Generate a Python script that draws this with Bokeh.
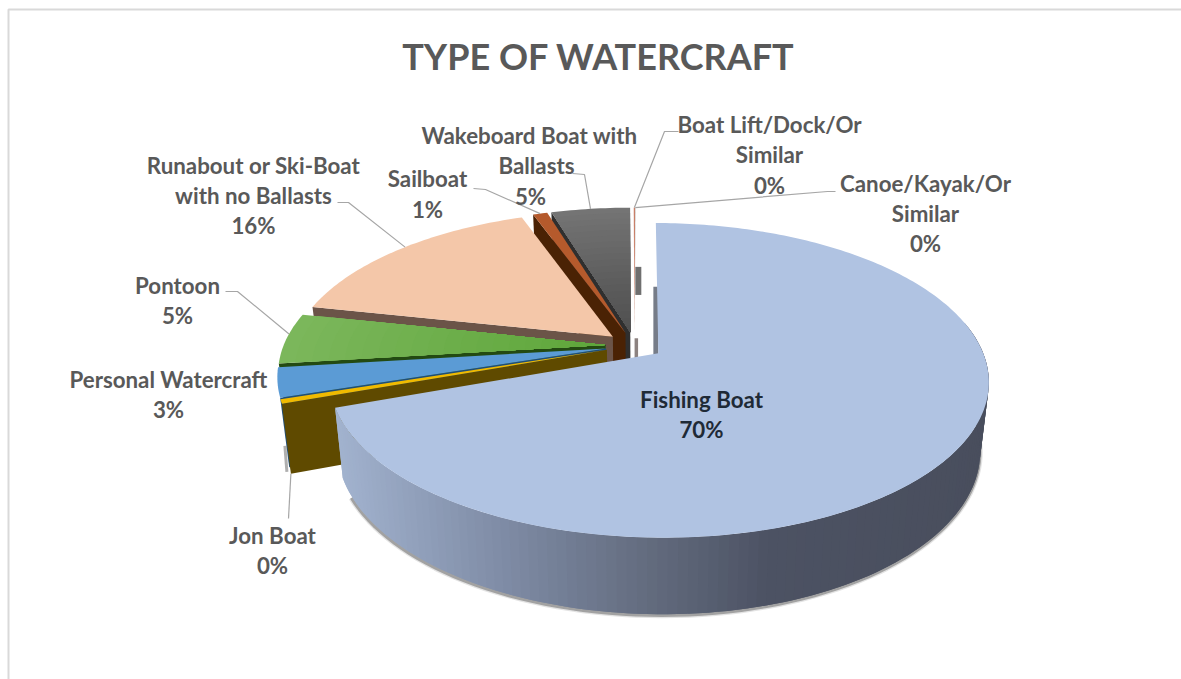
import math
from bokeh.plotting import figure, ColumnDataSource
from bokeh.core.properties import value
from bokeh.embed import file_html
from bokeh.resources import INLINE

TITLE = "TYPE OF WATERCRAFT"

# Series, clockwise from twelve o'clock
names = ["Fishing Boat", "Jon Boat", "Personal Watercraft", "Pontoon",
         "Runabout or Ski-Boat with no Ballasts", "Sailboat",
         "Wakeboard Boat with Ballasts", "Boat Lift/Dock/Or Similar",
         "Canoe/Kayak/Or Similar"]
shares = [69.5, 0.45, 3.05, 5.3, 16.1, 0.85, 4.65, 0.08, 0.02]

top_outer = ["#B0C3E2", "#F0BA00", "#5B9BD5", "#7CB75C", "#F4C7A9", "#B55A2C", "#757575", "#C97F68", "#A5A5A5"]
top_inner = ["#B0C3E2", "#F0BA00", "#5B9BD5", "#5EA63A", "#F4C7A9", "#B55A2C", "#4F4F4F", "#C97F68", "#A5A5A5"]
wall_color = ["#6E7688", "#5F4A00", "#1F4E79", "#234A12", "#6B5448", "#4A2204", "#2F2F2F", "#7A3A20", "#6E6E6E"]

# Projection of the tilted disc onto the page
CX, CY = 634.0, 345.0
RX, RY = 322.0, 150.0
PERSP = 0.17
EXPLODE = 0.09
DEPTH = 67.0
DEPTH_PERSP = 0.119
ROTATION = math.radians(0.2)
NADIR_X, NADIR_PULL = 642.0, 0.025


def project(x, y):
    s = 1.0 + PERSP * y
    return CX + RX * x / s, CY - RY * y / s


def depth_at(y):
    return DEPTH / (1.0 + DEPTH_PERSP * y)


def mix(a, b, t):
    ca = [int(a[i:i + 2], 16) for i in (1, 3, 5)]
    cb = [int(b[i:i + 2], 16) for i in (1, 3, 5)]
    return "#%02x%02x%02x" % tuple(round(p + (q - p) * t) for p, q in zip(ca, cb))


SIDE_STOPS = [(330, "#A3B4D0"), (500, "#808DA7"), (650, "#636C7F"), (775, "#4C5263"), (990, "#494E5D")]


def side_shade(px):
    for (x0, c0), (x1, c1) in zip(SIDE_STOPS, SIDE_STOPS[1:]):
        if px <= x1:
            return mix(c0, c1, max(0.0, (px - x0) / (x1 - x0)))
    return SIDE_STOPS[-1][1]


total = sum(shares)
spans = []
acc = 0.0
for v in shares:
    spans.append((ROTATION + acc / total * 2 * math.pi, ROTATION + (acc + v) / total * 2 * math.pi))
    acc += v


def slice_offset(i):
    mid = sum(spans[i]) / 2
    return EXPLODE * math.sin(mid), EXPLODE * math.cos(mid)


def page_point(i, r, ang, lower=False):
    ox, oy = slice_offset(i)
    x, y = ox + r * math.sin(ang), oy + r * math.cos(ang)
    px, py = project(x, y)
    if lower:
        # verticals lean slightly toward a point below the chart
        return px + (NADIR_X - px) * NADIR_PULL, py + depth_at(y)
    return px, py


fig_w, fig_h = 1181, 679
p = figure(width=fig_w, height=fig_h, x_range=(0, fig_w), y_range=(fig_h, 0),
           output_backend="svg", toolbar_location=None, min_border=0,
           outline_line_color=None, background_fill_color="white", border_fill_color="white")
p.axis.visible = False
p.grid.visible = False

# Chart frame
p.line([8, 8, fig_w], [fig_h, 9, 9], line_color="#D9D9D9", line_width=2)


def poly(xs, ys, color):
    p.patch(xs, ys, fill_color=color, line_color=None)


def radial_wall(i, ang, color):
    a = page_point(i, 0, ang)
    b = page_point(i, 1, ang)
    c = page_point(i, 1, ang, True)
    d = page_point(i, 0, ang, True)
    poly([a[0], b[0], c[0], d[0]], [a[1], b[1], c[1], d[1]], color)


def wall_slab(i, ang, r0, r1, width, color):
    # the part of a back wall that shows through the gap between slices
    hi = page_point(i, r1, ang, True)
    lo = page_point(i, r0, ang, True)
    x0 = page_point(i, r0, ang)[0]
    poly([x0, x0 + width, x0 + width, x0], [hi[1], hi[1], lo[1], lo[1]], color)


def outer_wall(i, a0, a1):
    # each band runs on under the next one so no seam shows between them
    n = max(2, int((a1 - a0) / math.radians(1.5)))
    step = (a1 - a0) / n
    for k in range(n, 0, -1):
        angs = [a0 + step * (k - 1), a0 + step * k, min(a1, a0 + step * (k + 1))]
        top = [page_point(i, 1, a) for a in angs]
        low = [page_point(i, 1, a, True) for a in angs]
        pts = top + low[::-1]
        poly([q[0] for q in pts], [q[1] for q in pts], side_shade(top[1][0]))


def top_face(i):
    a0, a1 = spans[i]
    n = max(3, int((a1 - a0) / math.radians(1.0)))
    angs = [a0 + (a1 - a0) * k / n for k in range(n + 1)]
    rings = 1 if top_outer[i] == top_inner[i] else 20
    # drawn from the rim inward, each wedge covering the part of the last one nearer the apex
    for k in range(rings, 0, -1):
        r = k / rings
        pts = [page_point(i, 0, a0)] + [page_point(i, r, a) for a in angs]
        poly([q[0] for q in pts], [q[1] for q in pts],
             mix(top_inner[i], top_outer[i], (k - 0.5) / rings))


# Back slices first, the large slice last so it overlaps the others
paint_order = [8, 7, 6, 5, 4, 3, 2, 1, 0]
for i in paint_order:
    a0, a1 = spans[i]
    if i == 0:
        # soft shadow under the near rim of the large slice
        sh_angs = [math.radians(d) for d in range(92, 246, 2)]
        low = [page_point(0, 1, a, True) for a in sh_angs]
        for w, alpha in [(6, 0.15), (3.5, 0.4)]:
            p.line([q[0] - 0.5 for q in low], [q[1] + 1 for q in low],
                   line_color="#404040", line_alpha=alpha, line_width=w)
        outer_wall(0, math.radians(78), a1)
        wall_slab(0, a0, 0.0, 0.97, -5.0, "#767C88")
    elif i == 8:
        wall_slab(i, a1, 0.76, 1.0, 6.0, "#6F6F6F")
        wall_slab(i, a1, 0.0, 0.42, 3.5, "#8C8280")
    elif i != 7:
        if i == 1:
            low = page_point(1, 1, a0, True)
            p.line([low[0] - 4, low[0] - 6], [low[1] - 2, low[1] - 28],
                   line_color="#606060", line_alpha=0.5, line_width=3)
        radial_wall(i, a0, wall_color[i])
    top_face(i)

# Leader lines: elbow points run from the label to the slice rim
LEADERS = [
    (1, [(288, 518)], (spans[1][0], True)),
    (3, [(225, 291), (237, 291)], (sum(spans[3]) / 2 + 0.03, False)),
    (4, [(337, 202), (348, 202)], (sum(spans[4]) / 2 + 0.03, False)),
    (5, [(473, 188), (485, 189)], (sum(spans[5]) / 2, False)),
    (6, [(572, 173), (584, 174)], (sum(spans[6]) / 2, False)),
    (7, [(678, 131), (664, 131)], (sum(spans[7]) / 2, False)),
    (8, [(835, 191), (827, 191)], (sum(spans[8]) / 2, False)),
]
for i, elbow, (ang, lower) in LEADERS:
    end = page_point(i, 1, ang, lower)
    xs = [q[0] for q in elbow] + [end[0]]
    ys = [q[1] for q in elbow] + [end[1]]
    p.line(xs, ys, line_color="#A6A6A6", line_width=1.2)


def pct(v):
    return "%d%%" % math.floor(v + 0.5)


# Data labels, one row per text line
rows = [
    ("Wakeboard Boat with", 529, 135), ("Ballasts", 536, 165), (pct(shares[6]), 530, 196),
    ("Boat Lift/Dock/Or", 769, 124), ("Similar", 769, 154), (pct(shares[7]), 769, 185),
    ("Canoe/Kayak/Or", 925, 183), ("Similar", 925, 213), (pct(shares[8]), 925, 243),
    ("Sailboat", 427, 178), (pct(shares[5]), 427, 209),
    ("Runabout or Ski-Boat", 253, 165), ("with no Ballasts", 253, 195), (pct(shares[4]), 253, 225),
    ("Pontoon", 177, 285), (pct(shares[3]), 177, 315),
    ("Personal Watercraft", 168, 379), (pct(shares[2]), 168, 409),
    ("Jon Boat", 272, 535), (pct(shares[1]), 272, 565),
]
src = ColumnDataSource(dict(t=[r[0] for r in rows], x=[r[1] for r in rows], y=[r[2] for r in rows]))
p.text("x", "y", text="t", source=src, text_font=value("Lato"), text_font_style="bold",
       text_font_size="22.3px", text_color="#595959", text_align="center", text_baseline="middle")

p.text([701, 701], [399, 429], text=["Fishing Boat", pct(shares[0])], text_font=value("Lato"),
       text_font_style="bold", text_font_size="22.3px", text_color="#1F2A36",
       text_align="center", text_baseline="middle")

p.text([598], [55], text=[TITLE], text_font=value("Lato"), text_font_style="bold",
       text_font_size="36px", text_color="#595959", text_align="center", text_baseline="middle")

open("out.html", "w").write(file_html(p, INLINE))
